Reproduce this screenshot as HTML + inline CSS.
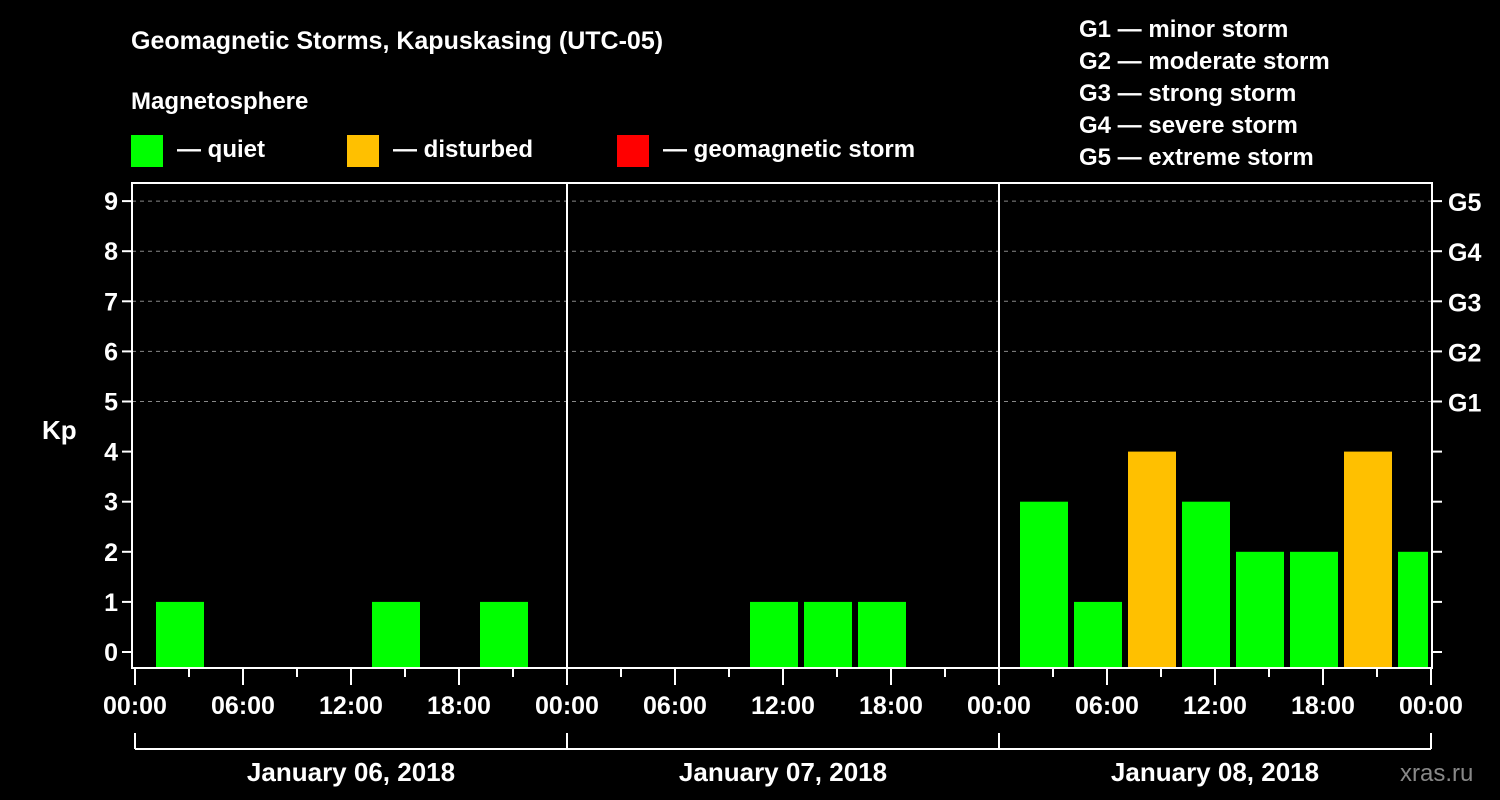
<!DOCTYPE html>
<html><head><meta charset="utf-8"><style>
html,body{margin:0;padding:0;background:#000;}
svg{display:block;font-family:"Liberation Sans",Arial,sans-serif;font-weight:bold;}
</style></head><body>
<svg id="chart" width="1500" height="800" xmlns="http://www.w3.org/2000/svg">
<rect x="0" y="0" width="1500" height="800" fill="#000"/>
<text x="131" y="49" fill="#fff" font-size="25">Geomagnetic Storms, Kapuskasing (UTC-05)</text>
<text x="131" y="109" fill="#fff" font-size="24">Magnetosphere</text>
<g><rect x="131" y="135" width="32" height="32" fill="#00ff00"/><text x="177" y="157" fill="#fff" font-size="24">— quiet</text></g>
<g><rect x="347" y="135" width="32" height="32" fill="#ffc000"/><text x="393" y="157" fill="#fff" font-size="24">— disturbed</text></g>
<g><rect x="617" y="135" width="32" height="32" fill="#ff0000"/><text x="663" y="157" fill="#fff" font-size="24">— geomagnetic storm</text></g>
<g fill="#fff" font-size="24">
<text x="1079" y="37">G1 — minor storm</text>
<text x="1079" y="69">G2 — moderate storm</text>
<text x="1079" y="101">G3 — strong storm</text>
<text x="1079" y="133">G4 — severe storm</text>
<text x="1079" y="165">G5 — extreme storm</text>
</g>
<text x="42" y="439" fill="#fff" font-size="26">Kp</text>
<text x="1400" y="781" fill="#888" font-size="24" font-weight="normal">xras.ru</text>
<g id="grid"></g><g id="bars"></g><g id="axes"></g>
</svg>
<script>
const kpValues = [1,0,0,0,1,0,1,0, 0,0,0,1,1,1,0,0, 3,1,4,3,2,2,4,2];
const slotStartHours = [1,4,7,10,13,16,19,22, 1,4,7,10,13,16,19,22, 1,4,7,10,13,16,19,22];
const slotDays = [0,0,0,0,0,0,0,0, 1,1,1,1,1,1,1,1, 2,2,2,2,2,2,2,2];
const dayLabels = ["January 06, 2018","January 07, 2018","January 08, 2018"];
const timeLabels = ["00:00","06:00","12:00","18:00"];
const kpTicks = [0,1,2,3,4,5,6,7,8,9];
const gLabels = ["G1","G2","G3","G4","G5"];

const X0=135, PXH=18, L=132, R=1432, TOP=183, BOT=668;
const xHour = h => X0 + h*PXH;
const yKp = k => 652 - k*50.1;
const NS="http://www.w3.org/2000/svg";
function mk(tag, attrs, parent, text){const e=document.createElementNS(NS,tag);for(const k in attrs)e.setAttribute(k,attrs[k]);if(text!==undefined)e.textContent=text;parent.appendChild(e);return e;}
const grid=document.getElementById('grid'), bars=document.getElementById('bars'), axes=document.getElementById('axes');

kpTicks.forEach(k=>{
  if(k>=5){const g=mk('line',{x1:L,x2:R,y1:yKp(k),y2:yKp(k),stroke:'#888','stroke-width':1,'stroke-dasharray':'4,4'},grid);
  
  }
  const t=mk('line',{x1:L-10,x2:L,y1:yKp(k),y2:yKp(k),stroke:'#fff','stroke-width':2},axes);
  
  
  const tl=mk('text',{x:L-14,y:yKp(k)+9,fill:'#fff','font-size':25,'text-anchor':'end'},axes,String(k));
  
  
  const rt=mk('line',{x1:R,x2:R+10,y1:yKp(k),y2:yKp(k),stroke:'#fff','stroke-width':2},axes);
  
  
  if(k>=5){const gl=mk('text',{x:R+16,y:yKp(k)+10,fill:'#fff','font-size':25},axes,gLabels[k-5]);
  
  }
});

kpValues.forEach((v,i)=>{
  if(v<=0) return;
  const h0=slotDays[i]*24+slotStartHours[i];
  let x1=xHour(h0)+3, x2=Math.min(xHour(h0+3)-3, R-4);
  const col=v>=5?'#ff0000':(v>=4?'#ffc000':'#00ff00');
  const b=mk('rect',{x:x1,y:yKp(v),width:x2-x1,height:BOT-yKp(v),fill:col},bars);
  
  
});

mk('rect',{x:L,y:TOP,width:R-L,height:BOT-TOP,fill:'none',stroke:'#fff','stroke-width':2},axes);
for(let d=1;d<3;d++){const l=mk('line',{x1:xHour(d*24),x2:xHour(d*24),y1:TOP,y2:BOT,stroke:'#fff','stroke-width':2},axes);

}
for(let h=0;h<=72;h+=3){
  const major=h%6===0;
  mk('line',{x1:xHour(h),x2:xHour(h),y1:BOT,y2:BOT+(major?17:9),stroke:'#fff','stroke-width':2},axes);
  if(major){const t=mk('text',{x:xHour(h),y:714,fill:'#fff','font-size':25,'text-anchor':'middle'},axes,timeLabels[(h%24)/6]);
  
  }
}
mk('line',{x1:xHour(0),x2:xHour(72),y1:749,y2:749,stroke:'#fff','stroke-width':2},axes);
for(let d=0;d<=3;d++) mk('line',{x1:xHour(d*24),x2:xHour(d*24),y1:733,y2:749,stroke:'#fff','stroke-width':2},axes);
dayLabels.forEach((s,d)=>{const t=mk('text',{x:xHour(d*24+12),y:781,fill:'#fff','font-size':26,'text-anchor':'middle'},axes,s);

});
</script>
</body></html>
